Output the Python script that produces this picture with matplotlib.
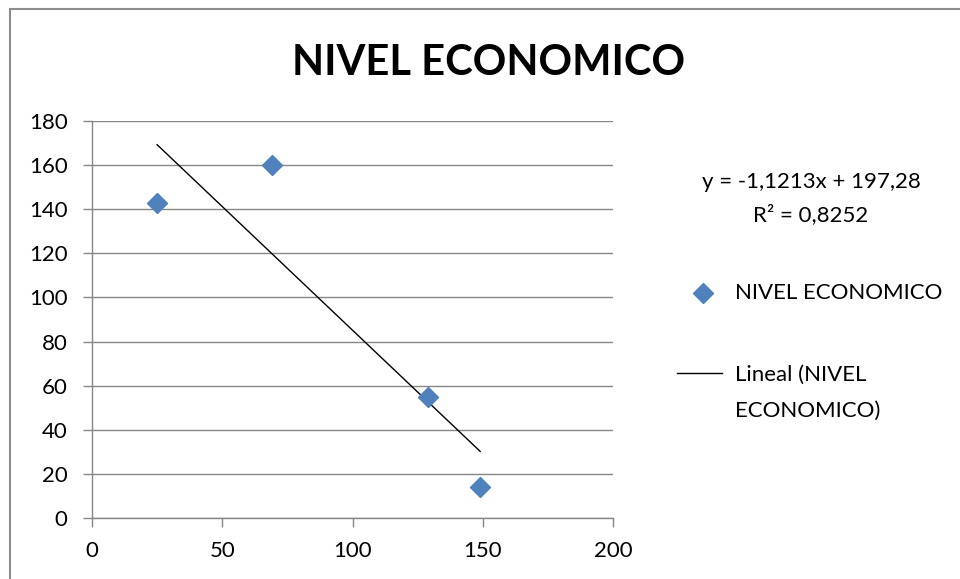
import numpy as np
import matplotlib
matplotlib.use("Agg")
import matplotlib.pyplot as plt
from matplotlib.lines import Line2D
from matplotlib.patches import Rectangle

# datos de nivel economico
x_vals = [25, 69, 129, 149]
y_vals = [143, 160, 55, 14]
serie = 'NIVEL ECONOMICO'
x_ticks = [0, 50, 100, 150, 200]
y_ticks = [0, 20, 40, 60, 80, 100, 120, 140, 160, 180]

plt.rcParams['font.family'] = ['Lato', 'DejaVu Sans']

azul = '#4F81BD'
gris = '#868686'
fs = 16

W, H = 960, 579
fig = plt.figure(figsize=(W / 100, H / 100), dpi=100)


def fx(px):
    return px / W


def fy(py):
    return 1 - py / H


ax = fig.add_axes([fx(92), fy(518), fx(613) - fx(92), fy(121) - fy(518)])

# puntos
ax.plot(x_vals, y_vals, linestyle='none', marker='D', markersize=10,
        color=azul, markeredgecolor=azul, zorder=3)

# linea de tendencia (minimos cuadrados)
m, b = np.polyfit(x_vals, y_vals, 1)
xt = np.array([min(x_vals), max(x_vals)])
ax.plot(xt, m * xt + b, color='black', linewidth=1, zorder=2)

pred = m * np.array(x_vals) + b
r2 = 1 - np.sum((np.array(y_vals) - pred) ** 2) / np.sum((np.array(y_vals) - np.mean(y_vals)) ** 2)

ax.set_xlim(0, 200)
ax.set_ylim(0, 180)
ax.set_xticks(x_ticks)
ax.set_yticks(y_ticks)
ax.yaxis.grid(True, color=gris, linewidth=1)
ax.set_axisbelow(True)
for s in ['top', 'right']:
    ax.spines[s].set_visible(False)
for s in ['left', 'bottom']:
    ax.spines[s].set_color(gris)
    ax.spines[s].set_linewidth(1)
ax.tick_params(axis='both', color=gris, length=6.5, width=1, labelsize=fs)
ax.tick_params(axis='y', pad=11)
ax.tick_params(axis='x', pad=10)

# titulo
fig.text(fx(489), fy(75), serie, ha='center', va='baseline',
         fontsize=30, fontweight='bold')

# ecuacion y R2
eq = 'y = {:.4f}x + {:.2f}'.format(m, b).replace('.', ',')
r2txt = 'R² = {:.4f}'.format(r2).replace('.', ',')
fig.text(fx(811), fy(188), eq, ha='center', va='baseline', fontsize=fs)
fig.text(fx(811), fy(221), r2txt, ha='center', va='baseline', fontsize=fs)

# leyenda
fig.add_artist(Line2D([fx(703)], [fy(293)], marker='D', markersize=10,
                      color=azul, linestyle='none', transform=fig.transFigure))
fig.text(fx(735), fy(293), serie, ha='left', va='center', fontsize=fs)
fig.add_artist(Line2D([fx(677), fx(722)], [fy(373), fy(373)], color='black',
                      linewidth=1, transform=fig.transFigure))
fig.text(fx(735), fy(381), 'Lineal (NIVEL', ha='left', va='baseline', fontsize=fs)
fig.text(fx(735), fy(417), 'ECONOMICO)', ha='left', va='baseline', fontsize=fs)

# marco del grafico
fig.add_artist(Rectangle((fx(9.5), -0.1), 1.2, fy(9.5) + 0.1, fill=False,
                         edgecolor='#8c8c8c', linewidth=1.5,
                         transform=fig.transFigure))

fig.savefig('out.png', dpi=100)
